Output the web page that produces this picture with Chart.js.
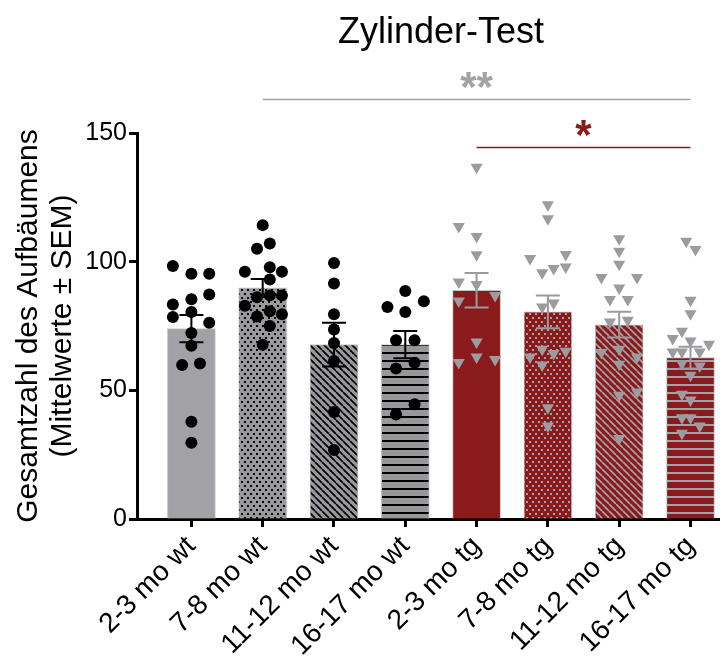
<!DOCTYPE html>
<html>
<head>
<meta charset="utf-8">
<script src="https://cdn.jsdelivr.net/npm/chart.js@4"></script>
<style>
  body { margin: 0; background: #fff; }
  canvas { display: block; }
</style>
</head>
<body>
<canvas id="zylinder" width="726" height="662"></canvas>
<script>
const categories = ['2-3 mo wt', '7-8 mo wt', '11-12 mo wt', '16-17 mo wt', '2-3 mo tg', '7-8 mo tg', '11-12 mo tg', '16-17 mo tg'];
const means = [74.0, 89.8, 67.8, 67.8, 88.9, 80.5, 75.5, 62.7];
const sems = [5.3, 3.5, 8.5, 5.3, 6.7, 6.4, 5.0, 4.2];

// single animals: [offset from group centre, value]
const wt23 = [[-0.26, 98.3], [0, 95.3], [0.25, 95.3], [0.25, 87.2], [-0.26, 83.4], [0, 85.4], [-0.26, 78.5], [0, 80.4], [0.25, 76.3], [0, 72.3], [0, 67.3], [-0.13, 59.8], [0.12, 60.4], [0, 37.8], [0, 29.6]];
const wt78 = [[0, 114.2], [0.1, 107.1], [-0.08, 105.0], [-0.25, 96.1], [0.1, 97.8], [0.27, 96.1], [0.1, 93.1], [-0.08, 86.2], [0.1, 86.9], [0.27, 86.9], [-0.25, 82.9], [0.1, 80.7], [0.27, 79.6], [-0.08, 78.7], [0.1, 75.0], [0, 67.7]];
const wt1112 = [[0, 99.5], [0, 91.5], [0, 79.6], [0, 73.6], [0, 68.4], [0, 61.4], [0, 41.6], [0, 26.8]];
const wt1617 = [[0, 88.6], [0.26, 84.6], [-0.25, 82.4], [0, 80.4], [-0.13, 69.5], [0.13, 69.5], [0.13, 60.7], [-0.13, 58.5], [0.13, 44.6], [-0.13, 40.6]];
const tg23 = [[0, 136.7], [-0.25, 113.7], [0, 109.8], [0, 102.7], [-0.25, 92.1], [0, 91.1], [-0.25, 84.7], [0.26, 86.9], [0, 68.8], [-0.25, 60.8], [0, 63.0], [0.26, 62.0]];
const tg78 = [[0, 122.1], [0, 116.7], [-0.25, 101.2], [0.25, 102.8], [0.25, 97.9], [0.08, 97.3], [-0.08, 95.7], [-0.08, 82.4], [0.08, 83.9], [-0.25, 63.0], [-0.08, 66.0], [0.08, 64.3], [0.25, 65.2], [-0.08, 59.8], [0, 43.2], [0, 36.1]];
const tg1112 = [[0, 108.9], [0, 104.0], [0, 99.0], [-0.25, 93.8], [0.25, 93.8], [0, 89.8], [-0.13, 85.3], [0.12, 85.3], [-0.13, 76.6], [0.12, 77.2], [-0.25, 64.7], [0, 66.0], [0.25, 63.0], [0, 60.1], [0, 48.1], [0.25, 49.4], [0, 31.3]];
const tg1617 = [[-0.06, 107.9], [0.07, 104.7], [0, 85.0], [0, 79.8], [-0.25, 70.1], [-0.12, 73.0], [0, 69.2], [0.26, 67.9], [-0.25, 64.9], [-0.12, 64.9], [0.13, 64.9], [-0.12, 60.4], [0.13, 59.5], [0, 55.9], [-0.12, 48.5], [0, 46.2], [-0.12, 39.3], [0, 39.3], [0.13, 36.1], [-0.12, 33.3]];

const yTicks = [0, 50, 100, 150];

// significance brackets
const sigFrom = [1, 4];
const sigTo = [7, 7];
const sigLevel = [163.4, 144.7];
const sigText = ['**', '*'];

const FONT = "'Liberation Sans', Arial, Helvetica, sans-serif";
const GREY = '#a2a1a6';
const GREY_DARK = '#99989d';
const RED = '#8b1a1c';
const RED_MARK = '#a3a3a7';

const ctx = document.getElementById('zylinder').getContext('2d');

function makePattern(bg, fg, kind) {
  const c = document.createElement('canvas');
  let w = 4, h = 4;
  if (kind === 'dots') { w = 6; h = 8; }
  if (kind === 'diag') { w = 7; h = 7; }
  if (kind === 'hline') { w = 4; h = 8; }
  c.width = w;
  c.height = h;
  const g = c.getContext('2d');
  g.fillStyle = bg;
  g.fillRect(0, 0, w, h);
  g.fillStyle = fg;
  g.strokeStyle = fg;
  if (kind === 'dots') {
    g.fillRect(1, 1, 2, 2);
    g.fillRect(4, 5, 2, 2);
  } else if (kind === 'diag') {
    g.lineWidth = 1.7;
    g.beginPath();
    for (const k of [-w, 0, w]) {
      g.moveTo(k, 0);
      g.lineTo(k + w, h);
    }
    g.stroke();
  } else if (kind === 'hline') {
    g.fillRect(0, 0, w, 2);
  }
  return ctx.createPattern(c, 'repeat');
}

const barFills = [
  GREY,
  makePattern(GREY_DARK, '#000', 'dots'),
  makePattern(GREY_DARK, '#000', 'diag'),
  makePattern(GREY_DARK, '#000', 'hline'),
  RED,
  makePattern(RED, RED_MARK, 'dots'),
  makePattern(RED, RED_MARK, 'diag'),
  makePattern(RED, RED_MARK, 'hline')
];
const errColors = ['#000', '#000', '#000', '#000', '#9a9a9e', '#9a9a9e', '#9a9a9e', '#9a9a9e'];

function toPoints(groups, start) {
  const out = [];
  groups.forEach((g, gi) => {
    g.forEach(p => out.push({ x: start + gi + p[0], y: p[1] }));
  });
  return out;
}

const errorBars = {
  id: 'errorBars',
  afterDatasetsDraw(chart) {
    const { ctx, scales: { x, y } } = chart;
    ctx.save();
    ctx.lineWidth = 2;
    means.forEach((m, i) => {
      const px = x.getPixelForValue(i);
      const top = y.getPixelForValue(m + sems[i]);
      const bot = y.getPixelForValue(m - sems[i]);
      ctx.strokeStyle = errColors[i];
      ctx.beginPath();
      ctx.moveTo(px, top);
      ctx.lineTo(px, bot);
      ctx.moveTo(px - 12, top);
      ctx.lineTo(px + 12, top);
      ctx.moveTo(px - 12, bot);
      ctx.lineTo(px + 12, bot);
      ctx.stroke();
    });
    ctx.restore();
  }
};

const annotations = {
  id: 'annotations',
  afterDraw(chart) {
    const { ctx, scales: { x, y } } = chart;
    ctx.save();
    // title, centred over the groups
    const mid = (x.getPixelForValue(0) + x.getPixelForValue(categories.length - 1)) / 2;
    ctx.fillStyle = '#000';
    ctx.font = '36px ' + FONT;
    ctx.textAlign = 'center';
    ctx.textBaseline = 'alphabetic';
    ctx.fillText('Zylinder-Test', mid, 43);

    const sigColors = ['#a3a3a6', RED];
    sigLevel.forEach((lv, i) => {
      const py = Math.round(y.getPixelForValue(lv)) + 0.5;
      const x1 = x.getPixelForValue(sigFrom[i]);
      const x2 = x.getPixelForValue(sigTo[i]);
      ctx.strokeStyle = sigColors[i];
      ctx.lineWidth = 1.5;
      ctx.beginPath();
      ctx.moveTo(x1, py);
      ctx.lineTo(x2, py);
      ctx.stroke();
      ctx.fillStyle = sigColors[i];
      ctx.font = 'bold 42px ' + FONT;
      const m = ctx.measureText(sigText[i]);
      const hgt = m.actualBoundingBoxAscent + m.actualBoundingBoxDescent;
      const base = py - 19.5 + hgt / 2 - m.actualBoundingBoxDescent;
      ctx.fillText(sigText[i], (x1 + x2) / 2, base);
    });
    ctx.restore();
  }
};

new Chart(ctx, {
  type: 'bar',
  data: {
    datasets: [
      {
        type: 'scatter',
        data: toPoints([wt23, wt78, wt1112, wt1617], 0),
        pointStyle: 'circle',
        pointRadius: 6,
        backgroundColor: '#000',
        borderWidth: 0,
        order: 1
      },
      {
        type: 'scatter',
        data: toPoints([tg23, tg78, tg1112, tg1617], 4),
        pointStyle: 'triangle',
        rotation: 180,
        pointRadius: 7,
        backgroundColor: '#9c9ca0',
        borderWidth: 0,
        order: 1
      },
      {
        type: 'bar',
        data: means.map((m, i) => ({ x: i, y: m })),
        backgroundColor: barFills,
        borderColor: '#c4c4c6',
        borderWidth: 1,
        barThickness: 48,
        order: 2
      }
    ]
  },
  options: {
    responsive: false,
    animation: false,
    events: [],
    layout: { padding: { top: 133, right: 0, bottom: 0, left: 0 } },
    plugins: {
      legend: { display: false },
      tooltip: { enabled: false },
      title: { display: false }
    },
    scales: {
      x: {
        type: 'linear',
        min: -0.763,
        max: 7.4,
        offset: false,
        afterBuildTicks: s => { s.ticks = categories.map((c, i) => ({ value: i })); },
        afterFit: s => { s.height = 143; },
        grid: { offset: false, drawOnChartArea: false, drawTicks: true, tickLength: 8, tickWidth: 3, tickColor: '#000' },
        border: { display: true, color: '#000', width: 3 },
        ticks: {
          autoSkip: false,
          minRotation: 45,
          maxRotation: 45,
          padding: 3,
          color: '#000',
          font: { family: FONT, size: 28 },
          callback: v => categories[v]
        }
      },
      y: {
        min: 0,
        max: 150,
        afterBuildTicks: s => { s.ticks = yTicks.map(v => ({ value: v })); },
        afterFit: s => { s.width = 137; },
        grid: { drawOnChartArea: false, drawTicks: true, tickLength: 8, tickWidth: 3, tickColor: '#000' },
        border: { display: true, color: '#000', width: 3 },
        ticks: {
          padding: 2,
          color: '#000',
          font: { family: FONT, size: 25 }
        },
        title: {
          display: true,
          text: ['Gesamtzahl des Aufbäumens', '(Mittelwerte ± SEM)'],
          color: '#000',
          font: { family: FONT, size: 30, lineHeight: 1.15 },
          padding: { top: 11, bottom: 0 }
        }
      }
    }
  },
  plugins: [errorBars, annotations]
});
</script>
</body>
</html>
